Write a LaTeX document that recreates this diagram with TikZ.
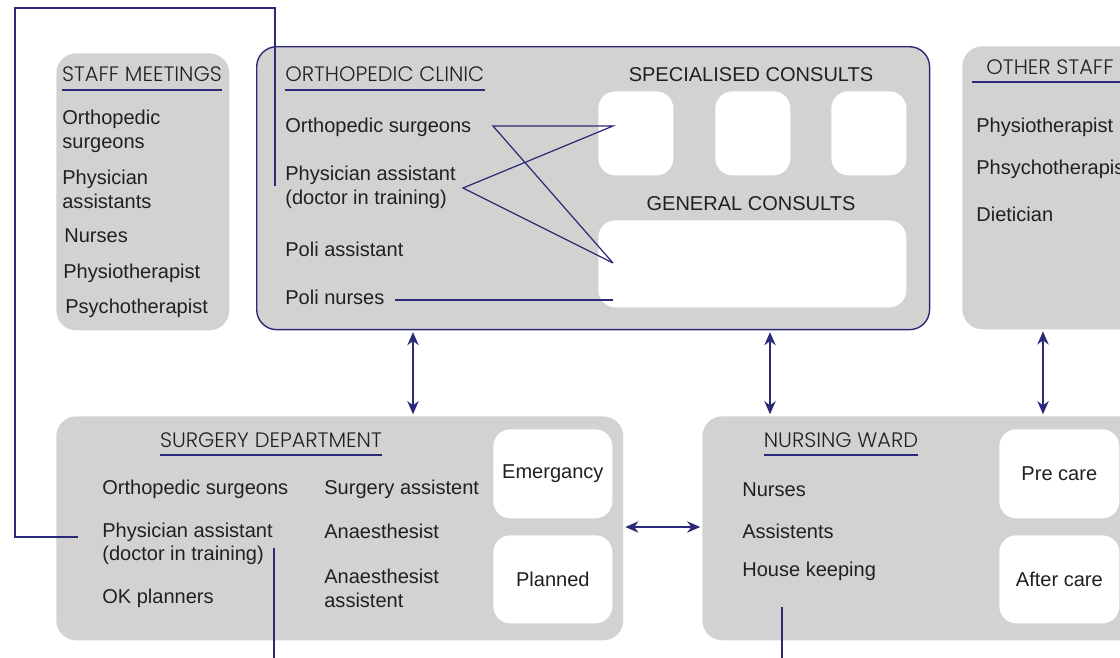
\documentclass[tikz,border=0pt]{standalone}
\usepackage{fontspec}
\setmainfont{Liberation Sans}
\newfontfamily\headfont{Poppins Light}
\usetikzlibrary{arrows.meta,positioning}

\definecolor{panelgray}{RGB}{210,211,209}
\definecolor{ink}{RGB}{35,31,32}
\definecolor{navy}{RGB}{44,42,120}

\tikzset{
  panel/.style={fill=panelgray, rounded corners=0.4cm, anchor=north west, inner sep=0pt},
  slot/.style={fill=white, rounded corners=0.34cm, anchor=north west, inner sep=0pt},
  slottext/.style={inner sep=0pt, text=ink, font=\fontsize{11.4}{13.6}\selectfont},
  item/.style={anchor=west, inner sep=0pt, yshift=-1pt, align=left, text=ink, font=\fontsize{11.4}{13.6}\selectfont},
  head/.style={inner sep=0pt, text=ink, font=\headfont\fontsize{11.9}{14}\selectfont},
  uline/.style={draw=navy, line width=0.7pt},
  link/.style={draw=navy, line width=0.7pt},
  twoway/.style={draw=navy, line width=0.7pt, {Stealth[length=7.5pt,width=6.5pt]}-{Stealth[length=7.5pt,width=6.5pt]}, shorten <=1pt, shorten >=1pt},
}

\begin{document}
\begin{tikzpicture}[x=0.02cm, y=-0.02cm]
\useasboundingbox (0,0) rectangle (1120,657);

% panels
\node[panel, minimum width=3.46cm, minimum height=5.54cm] (meet) at (56,53) {};
\node[panel, draw=navy, line width=0.8pt, minimum width=13.46cm, minimum height=5.66cm] (clinic) at (256,46) {};
\node[panel, minimum width=4cm, minimum height=5.66cm] (other) at (962,46) {};
\node[panel, minimum width=11.34cm, minimum height=4.48cm] (surg) at (56,416) {};
\node[panel, minimum width=10cm, minimum height=4.48cm] (ward) at (702,416) {};

% staff meetings
\node[head] (meettitle) at (142,74) {STAFF MEETINGS};
\draw[uline] (meettitle.west |- 0,90) -- (meettitle.east |- 0,90);
\node[item] (m1) at (62,130) {Orthopedic\\surgeons};
\node[item] (m2) at (62,188) {Physician\\assistants};
\node[item] (m3) at (64,234) {Nurses};
\node[item] (m4) at (63,272) {Physiotherapist};
\node[item] (m5) at (65,307) {Psychotherapist};

% orthopedic clinic
\node[head, anchor=west] (cltitle) at (285,74) {ORTHOPEDIC CLINIC};
\draw[uline] (cltitle.west |- 0,90) -- (cltitle.east |- 0,90);
\node[item] (c1) at (285,126) {Orthopedic surgeons};
\node[item] (c2) at (285,186) {Physician assistant\\(doctor in training)};
\node[item] (c3) at (285,248) {Poli assistant};
\node[item] (c4) at (285,296) {Poli nurses};
\node[slottext] (spectitle) at (751,75) {SPECIALISED CONSULTS};
\node[slot, minimum width=1.5cm, minimum height=1.68cm] (spec1) at (598,91) {};
\node[slot, minimum width=1.5cm, minimum height=1.68cm] (spec2) at (715,91) {};
\node[slot, minimum width=1.5cm, minimum height=1.68cm] (spec3) at (831,91) {};
\node[slottext] (gentitle) at (751,204) {GENERAL CONSULTS};
\node[slot, minimum width=6.16cm, minimum height=1.74cm] (gen) at (598,220) {};

\coordinate (z1) at (493,126);
\coordinate (z2) at (613,126);
\coordinate (z3) at (463,188);
\coordinate (z4) at (613,263);
\draw[link] (z4) -- (z1) -- (z2) -- (z3) -- (z4);
\coordinate (pn1) at (395,300);
\coordinate (pn2) at (613,300);
\draw[link] (pn1) -- (pn2);

% other staff
\node[head] (othtitle) at (1050,67) {OTHER STAFF};
\draw[uline] (972,82) -- (1125,82);
\node[item] (o1) at (976,126) {Physiotherapist};
\node[item] (o2) at (976,168) {Phsychotherapist};
\node[item] (o3) at (976,213) {Dietician};

% surgery department
\node[head] (surgtitle) at (271,440) {SURGERY DEPARTMENT};
\draw[uline] (surgtitle.west |- 0,455) -- (surgtitle.east |- 0,455);
\node[item] (s1) at (102,488) {Orthopedic surgeons};
\node[item] (s2) at (102,542) {Physician assistant\\(doctor in training)};
\node[item] (s3) at (102,597) {OK planners};
\node[item] (s4) at (324,488) {Surgery assistent};
\node[item] (s5) at (324,530) {Anaesthesist};
\node[item] (s6) at (324,587) {Anaesthesist\\assistent};
\node[slot, minimum width=2.38cm, minimum height=1.78cm] (emerg) at (493,429) {};
\node[slottext] at (emerg.center) {Emergancy};
\node[slot, minimum width=2.38cm, minimum height=1.76cm] (planned) at (493,535) {};
\node[slottext] at (planned.center) {Planned};

% nursing ward
\node[head] (wardtitle) at (841,440) {NURSING WARD};
\draw[uline] (wardtitle.west |- 0,455) -- (wardtitle.east |- 0,455);
\node[item] (w1) at (742,488) {Nurses};
\node[item] (w2) at (742,530) {Assistents};
\node[item] (w3) at (742,570) {House keeping};
\node[slot, minimum width=2.4cm, minimum height=1.78cm] (precare) at (999,429) {};
\node[slottext] at (precare.center) {Pre care};
\node[slot, minimum width=2.4cm, minimum height=1.76cm] (aftercare) at (999,535) {};
\node[slottext] at (aftercare.center) {After care};

% links between the units
\draw[twoway] (clinic.south -| 413,0) -- (surg.north -| 413,0);
\draw[twoway] (clinic.south -| 770,0) -- (ward.north -| 770,0);
\draw[twoway] (other.south -| 1043,0) -- (ward.north -| 1043,0);
\draw[twoway] (surg.east |- 0,527) -- (ward.west |- 0,527);

% physician assistant feedback lines
\coordinate (fb1) at (275,186);
\coordinate (fb2) at (78,537);
\draw[link] (fb1) |- (15,8) |- (fb2);
\coordinate (dn1) at (274,548);
\coordinate (dn2) at (782,607);
\draw[link] (dn1) -- (dn1 |- 0,665);
\draw[link] (dn2) -- (dn2 |- 0,665);
\end{tikzpicture}
\end{document}
